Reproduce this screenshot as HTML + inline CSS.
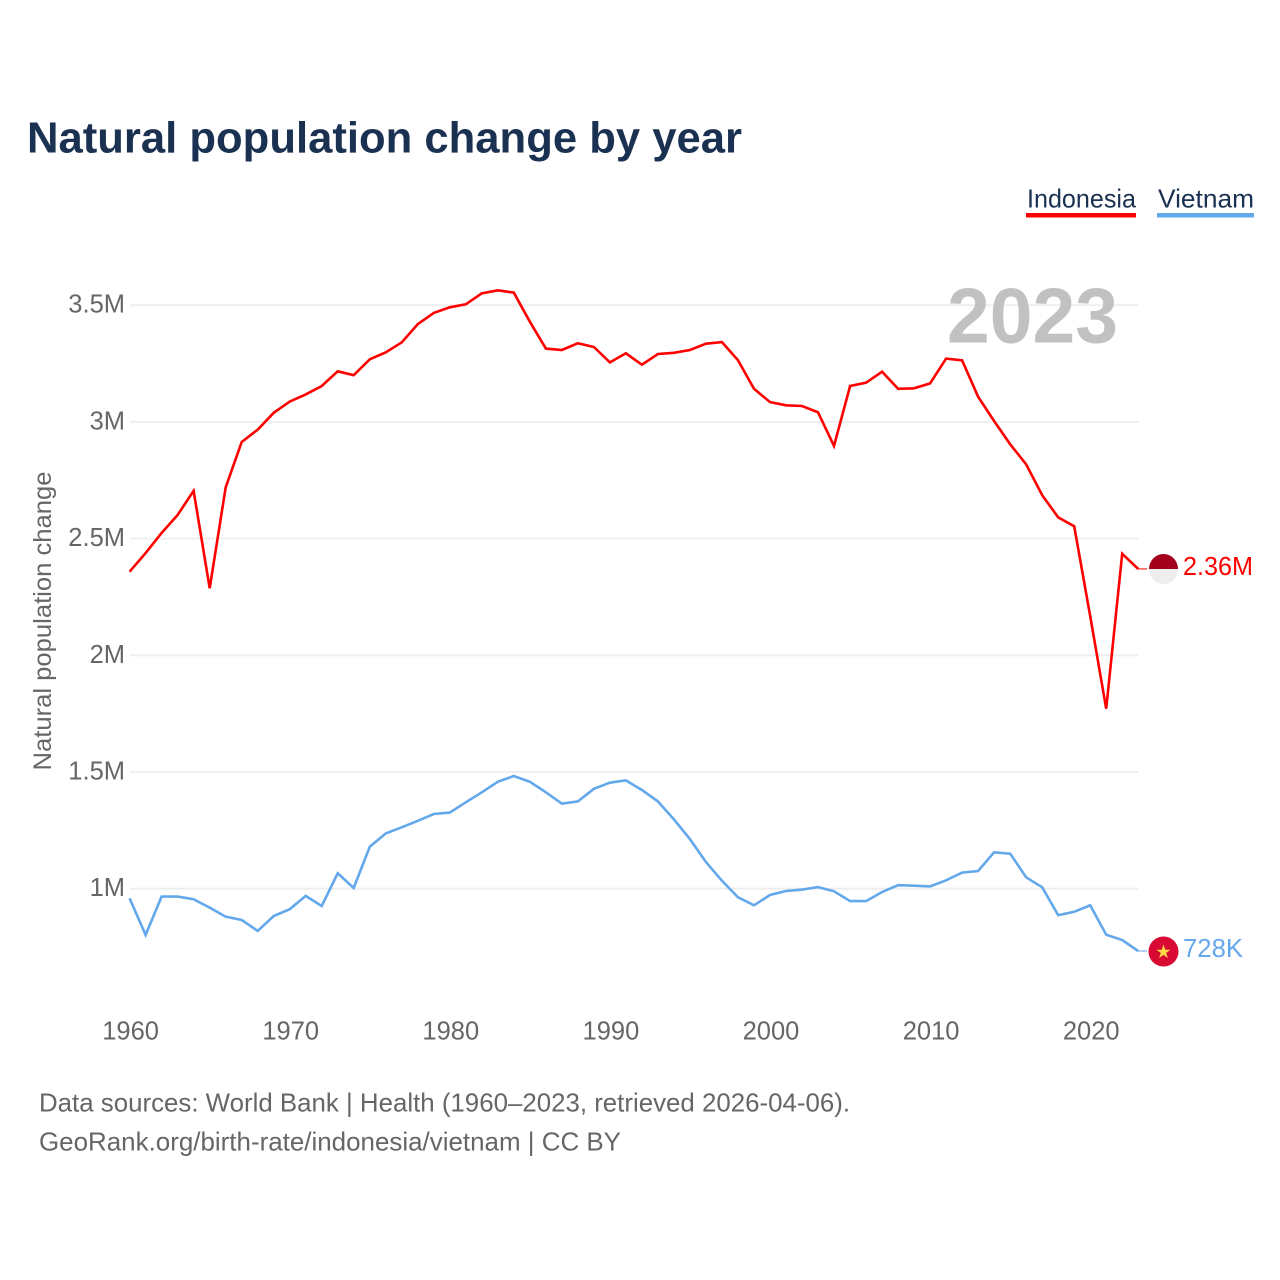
<!DOCTYPE html>
<html lang="en">
<head>
<meta charset="utf-8">
<title>Natural population change by year</title>
<style>
html,body{margin:0;padding:0;background:#fff;}
body{width:1280px;height:1280px;overflow:hidden;}
svg{display:block;font-family:"Liberation Sans",sans-serif;}
</style>
</head>
<body>
<svg id="chart" xmlns="http://www.w3.org/2000/svg" width="1280" height="1280" viewBox="0 0 1280 1280">
<rect x="0" y="0" width="1280" height="1280" fill="#ffffff"/>
<text x="27" y="152.5" font-size="44" font-weight="700" fill="#1a3152" textLength="715" lengthAdjust="spacingAndGlyphs">Natural population change by year</text>
<text x="1027" y="207.5" font-size="26" fill="#1a3152" textLength="109" lengthAdjust="spacingAndGlyphs">Indonesia</text>
<rect x="1026" y="213" width="110" height="4.5" fill="#ff0000"/>
<text x="1158" y="207.5" font-size="26" fill="#1a3152" textLength="96" lengthAdjust="spacingAndGlyphs">Vietnam</text>
<rect x="1157" y="213" width="97" height="4.5" fill="#64a8ec"/>
<g id="grid"></g>
<text x="1118" y="342.5" text-anchor="end" font-size="78" font-weight="700" fill="#c1c1c1" textLength="171" lengthAdjust="spacingAndGlyphs">2023</text>
<g id="yticks"></g>
<g id="xticks"></g>
<text transform="translate(51,621) rotate(-90)" text-anchor="middle" font-size="25" fill="#666666" textLength="299" lengthAdjust="spacingAndGlyphs">Natural population change</text>
<g id="series"></g>
<g>
<path d="M1149 569a14.5 15 0 0 0 29 0z" fill="#eeeeee"/>
<path d="M1149 569a14.5 15 0 0 1 29 0z" fill="#a2001d"/>
</g>
<text x="1183" y="575" font-size="25.5" fill="#ff0000" textLength="70" lengthAdjust="spacingAndGlyphs">2.36M</text>
<g>
<circle cx="1163.5" cy="951.5" r="15" fill="#d80a33"/>
<polygon points="1163.5,944.5 1165.2,949.7 1170.6,949.7 1166.2,952.9 1167.9,958 1163.5,954.9 1159.1,958 1160.8,952.9 1156.4,949.7 1161.8,949.7" fill="#ffda44"/>
</g>
<text x="1183" y="957" font-size="25.5" fill="#64a8ec" textLength="60" lengthAdjust="spacingAndGlyphs">728K</text>
<text x="39" y="1111.5" font-size="26" fill="#666666" textLength="811" lengthAdjust="spacingAndGlyphs">Data sources: World Bank | Health (1960–2023, retrieved 2026-04-06).</text>
<text x="39" y="1150.5" font-size="26" fill="#666666" textLength="582" lengthAdjust="spacingAndGlyphs">GeoRank.org/birth-rate/indonesia/vietnam | CC BY</text>
</svg>
<script>
const firstYear = 1960;
const indonesia = [2358,2438,2524,2601,2705,2287,2720,2914,2967,3039,3087,3118,3154,3217,3200,3268,3298,3341,3419,3467,3491,3504,3551,3564,3554,3429,3314,3308,3337,3321,3255,3294,3245,3291,3296,3308,3335,3342,3264,3142,3085,3071,3068,3041,2897,3154,3168,3215,3142,3144,3165,3271,3264,3108,3004,2904,2818,2686,2591,2553,2168,1771,2435,2370];
const vietnam = [959,802,966,966,955,919,880,866,819,883,912,969,926,1066,1003,1180,1237,1263,1291,1320,1326,1370,1413,1458,1483,1458,1413,1364,1374,1428,1454,1464,1423,1374,1297,1212,1114,1034,963,929,973,990,996,1007,989,947,947,986,1015,1013,1010,1036,1069,1076,1156,1150,1049,1006,887,901,929,803,780,733];
const yTickValues = [3500,3000,2500,2000,1500,1000];
const yTickLabels = ["3.5M","3M","2.5M","2M","1.5M","1M"];
const xTickValues = [1960,1970,1980,1990,2000,2010,2020];

const NS = "http://www.w3.org/2000/svg";
function xScale(year){ return 129.6 + (year - 1960) * 16.01; }
function yScale(v){ return 888.7 - (v - 1000) * 0.2334; }

function make(tag, parent, attrs, text){
  const el = document.createElementNS(NS, tag);
  for (const k in attrs) el.setAttribute(k, attrs[k]);
  if (text !== undefined) el.textContent = text;
  parent.appendChild(el);
  return el;
}

const gridG = document.getElementById("grid");
const yG = document.getElementById("yticks");
yTickValues.forEach(function(v, i){
  const y = yScale(v);
  const line = make("line", gridG, {x1:130, x2:1138.5, y1:y, y2:y, stroke:"#eeeeee", "stroke-width":1.8});
  
  
  const label = make("text", yG, {x:125, y:y+7.5, "text-anchor":"end", "font-size":25.5, fill:"#666666"}, yTickLabels[i]);
  
  
});

const xG = document.getElementById("xticks");
xTickValues.forEach(function(year){
  const label = make("text", xG, {x:xScale(year) + 1, y:1039.5, "text-anchor":"middle", "font-size":25.5, fill:"#666666"}, String(year));
  
  
});

const seriesG = document.getElementById("series");
function drawSeries(values, color){
  const pts = values.map(function(v, i){
    return xScale(firstYear + i).toFixed(1) + "," + yScale(v).toFixed(1);
  }).join(" ");
  const lastX = xScale(firstYear + values.length - 1);
  const lastY = yScale(values[values.length - 1]);
  const line = make("polyline", seriesG, {points:pts, fill:"none", stroke:color, "stroke-width":2.6, "stroke-linejoin":"miter"});
  
  
  const stub = make("line", seriesG, {x1:lastX, x2:lastX + 9, y1:lastY, y2:lastY, stroke:color, "stroke-width":1});
  
  
}
drawSeries(indonesia, "#ff0000");
drawSeries(vietnam, "#64a8ec");
</script>
</body>
</html>
